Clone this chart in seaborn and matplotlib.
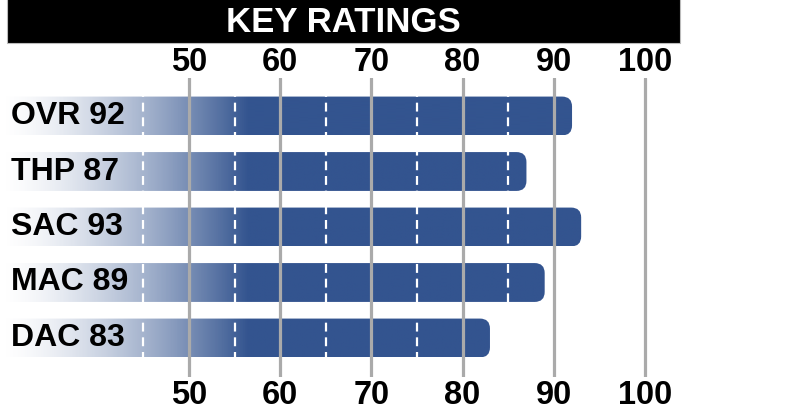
import numpy as np
import pandas as pd
import matplotlib
matplotlib.use("Agg")
import matplotlib.pyplot as plt
import seaborn as sns
from matplotlib.patches import FancyBboxPatch, Rectangle
from matplotlib.colors import LinearSegmentedColormap

# Chart data
categories = ["OVR", "THP", "SAC", "MAC", "DAC"]
ratings = [92, 87, 93, 89, 83]
ticks = [50, 60, 70, 80, 90, 100]
dash_marks = [45, 55, 65, 75, 85]
title = "KEY RATINGS"

labels = [f"{c} {r}" for c, r in zip(categories, ratings)]
df = pd.DataFrame({"label": labels, "rating": ratings})

BLUE = "#33548f"
GRID = "#aaaaaa"

sns.set_theme(style="white")
plt.rcParams["font.family"] = ["Liberation Sans", "DejaVu Sans"]
plt.rcParams["font.weight"] = "bold"

W, H = 785, 415
fig = plt.figure(figsize=(W / 100, H / 100), dpi=100)
ax_top, ax_bot = 78, 377
ax = fig.add_axes([0, 1 - ax_bot / H, 1, (ax_bot - ax_top) / H])

# pixel mapping: 50 -> 189px, 100 -> 645px
ppu = (645 - 189) / 50
x0 = 50 - 189 / ppu
x1 = 50 + (W - 189) / ppu
row0, rstep = 116, 55.5

sns.barplot(data=df, x="rating", y="label", orient="h", width=0.7,
            color=BLUE, ax=ax)

# gradient fill, white -> blue, with rounded right ends
cmap = LinearSegmentedColormap.from_list("fade", ["#ffffff", BLUE])
g_end = 56.5
r_x = 10 / ppu
r_y = 10 / rstep
for p in list(ax.patches):
    bx, by, bw, bh = p.get_x(), p.get_y(), p.get_width(), p.get_height()
    p.set_visible(False)
    box = FancyBboxPatch((bx, by), bw, bh,
                         boxstyle=f"round,pad=0,rounding_size={r_x}",
                         mutation_aspect=r_y / r_x,
                         facecolor="none", edgecolor="none", zorder=1)
    ax.add_patch(box)
    xs = np.linspace(x0 - 2, bx + bw + 1, 600)
    t = np.clip((xs - x0) / (g_end - x0), 0, 1) ** 1.5
    im = ax.imshow(t[np.newaxis, :], cmap=cmap, vmin=0, vmax=1,
                   extent=[xs[0], xs[-1], by + bh, by], aspect="auto",
                   interpolation="bilinear", zorder=1.1)
    im.set_clip_path(box)

ax.set_xlim(x0, x1)
ax.set_ylim((ax_bot - row0) / rstep, (ax_top - row0) / rstep)

# white dashed half-marks
ax.vlines(dash_marks, -0.5, len(labels) - 0.5, colors="white",
          linestyles=(0, (4, 2.6)), linewidth=1.6, zorder=2)

# gray gridlines on top
ax.set_xticks(ticks)
ax.grid(axis="x", color=GRID, linewidth=2.3)
ax.set_axisbelow(False)
ax.tick_params(axis="x", length=0, pad=2.5, labelsize=23.5,
               labelcolor="black")
for lab in ax.get_xticklabels():
    lab.set_fontweight("bold")
ax.set_yticks([])
ax.set_xlabel("")
ax.set_ylabel("")
sns.despine(ax=ax, left=True, bottom=True)

top = ax.secondary_xaxis("top")
top.set_xticks(ticks)
top.tick_params(length=0, pad=0, labelsize=23.5, labelcolor="black")
top.spines["top"].set_visible(False)
for lab in top.get_xticklabels():
    lab.set_fontweight("bold")

# row labels over the faded part of the bars
for i, lab in enumerate(labels):
    ax.text(11 / W, i, lab, transform=ax.get_yaxis_transform(),
            ha="left", va="center", fontsize=23, fontweight="bold",
            color="black", zorder=4)

# title bar
fig.patches.append(Rectangle((7 / W, 1 - 43 / H), 673 / W, 43 / H + 0.01,
                             transform=fig.transFigure, facecolor="black",
                             edgecolor="#bbbbbb", linewidth=0.8))
fig.text(343.5 / W, 1 - 22 / H, title, ha="center", va="center",
         color="white", fontsize=25, fontweight="bold")

fig.savefig("out.png", dpi=100)
